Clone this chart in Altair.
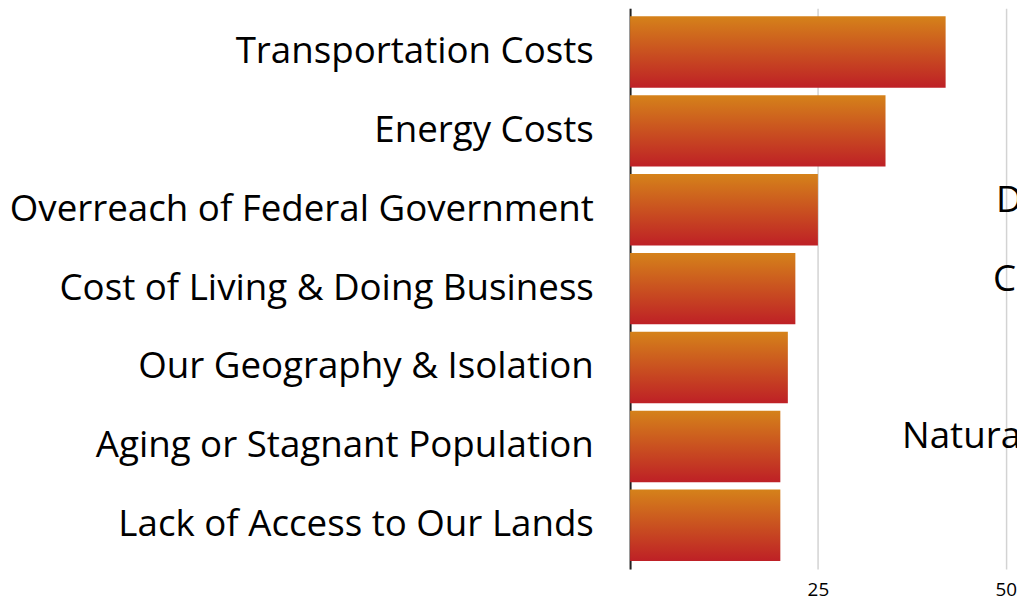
import altair as alt
import pandas as pd

categories = [
    "Transportation Costs",
    "Energy Costs",
    "Overreach of Federal Government",
    "Cost of Living & Doing Business",
    "Our Geography & Isolation",
    "Aging or Stagnant Population",
    "Lack of Access to Our Lands",
]
values = [42, 34, 25, 22, 21, 20, 20]
x_ticks = [0, 25, 50]

# partially visible labels of a neighbouring chart (cut off at the right edge)
fragments = ["D", "Ca", "Natural"]
fragment_rows = [categories[2], categories[3], categories[5]]
fragment_x = [48.7, 48.3, 36.2]

df = pd.DataFrame({"category": categories, "value": values})
frag = pd.DataFrame({"text": fragments, "row": fragment_rows, "x": fragment_x})

FONT = "Open Sans"

grad = alt.Gradient(
    gradient="linear",
    stops=[
        alt.GradientStop(color="#d5821a", offset=0),
        alt.GradientStop(color="#be2026", offset=1),
    ],
    x1=0, x2=0, y1=0, y2=1,
)

x_scale = alt.Scale(domain=[0, 51.5], nice=False, zero=True)
y_scale = alt.Scale(domain=categories, paddingInner=0.094, paddingOuter=0.1)

bars = alt.Chart(df).mark_bar(color=grad).encode(
    x=alt.X(
        "value:Q",
        scale=x_scale,
        axis=alt.Axis(
            values=x_ticks,
            labelExpr="datum.value == 0 ? '' : datum.label",
            grid=True,
            gridColor="#d3d3d3",
            gridWidth=1.5,
            domain=False,
            ticks=False,
            labelFontSize=19,
            labelFont=FONT,
            labelColor="#000000",
            labelPadding=12,
            title=None,
        ),
    ),
    y=alt.Y(
        "category:N",
        sort=categories,
        scale=y_scale,
        axis=alt.Axis(
            title=None,
            ticks=False,
            domainColor="#222222",
            domainWidth=2,
            labelFontSize=37,
            labelFont=FONT,
            labelColor="#000000",
            labelPadding=37,
            labelLimit=0,
            minExtent=626,
            maxExtent=626,
            grid=False,
        ),
    ),
)

text = alt.Chart(frag).mark_text(
    align="left", baseline="middle", dy=-9, fontSize=37, font=FONT,
    color="#000000", clip=True,
).encode(
    x=alt.X("x:Q", scale=x_scale),
    y=alt.Y("row:N", sort=categories, scale=y_scale),
    text="text:N",
)

chart = (
    alt.layer(bars, text)
    .properties(
        width=390,
        height=565,
        padding={"top": -2, "left": 0, "right": 0, "bottom": 0},
        background="#ffffff",
    )
    .configure_view(stroke=None)
)

chart.save("out.html", embed_options={"renderer": "svg", "actions": False})
